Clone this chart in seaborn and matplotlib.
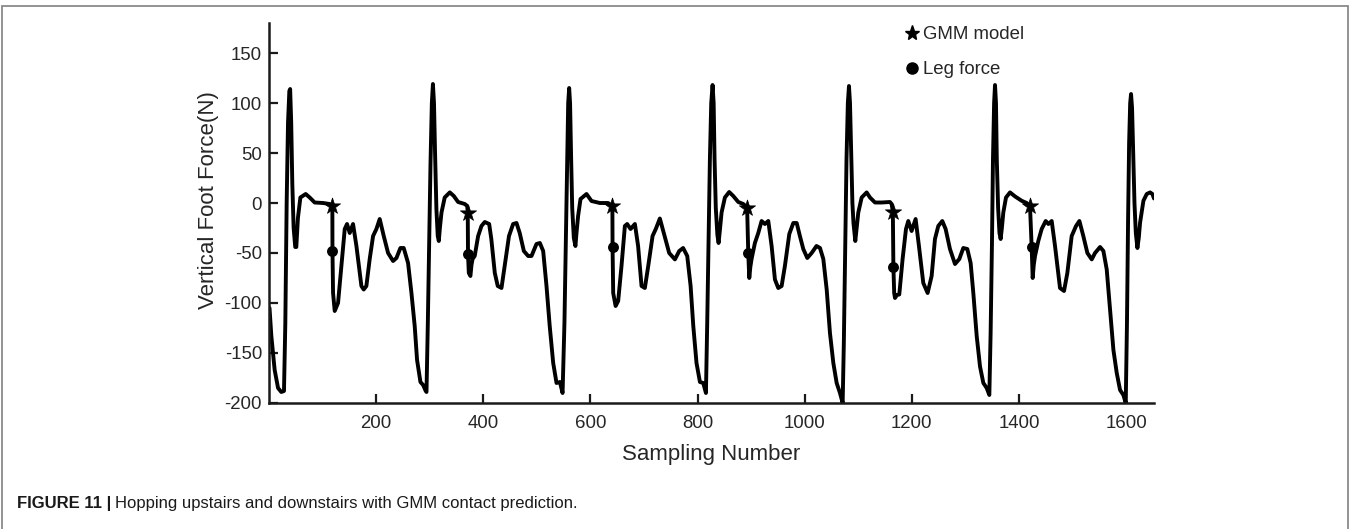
import matplotlib
matplotlib.use("Agg")
import matplotlib.pyplot as plt
from matplotlib.lines import Line2D
from matplotlib.patches import Rectangle
import seaborn as sns

# vertical foot force trace
sample_idx = [
    1, 4.4, 10.6, 16.9, 23, 28, 30.5, 33, 35.5, 38, 39.5, 41.5, 43.5, 46, 49, 51, 54, 58.6,
    68.5, 76, 85.3, 100.9, 113.4, 118.3, 118.5, 119.6, 122.7, 128.9, 135.1, 141.4, 145.7,
    150.7, 156.9, 163.2, 172.5, 176.8, 181.8, 188, 194.3, 200.5, 206.7, 214.2, 222.3, 231.6,
    237.9, 245.3, 251.5, 259.6, 265.9, 272, 276.4, 282.7, 287.7, 292.6,
    # hop 2
    294, 296.5, 299, 301.5, 304, 306, 308, 310, 312.5, 315, 317, 319, 322, 328, 337.5, 345,
    353, 365.5, 370, 371, 371.5, 373, 376, 378, 380, 384, 390.4, 396.6, 402.8, 411, 415,
    421.5, 427, 434, 440, 448, 455.7, 462, 468, 475.7, 483.8, 490, 499.3, 505.6, 511.8, 518,
    524, 530.5, 536.7, 543, 548,
    # hop 3
    551.5, 554, 556.5, 558.5, 560.3, 562, 564, 566, 569, 572, 574, 577, 581.5, 592.7, 602,
    617.6, 633, 641, 641.3, 642.5, 647, 651.8, 658, 664.3, 668.6, 674.9, 683, 689, 695.4,
    701.6, 707.9, 716, 722, 729.6, 737, 747, 757.7, 765.8, 773, 780.7, 787, 792, 798, 804.4,
    810.6, 815.6,
    # hop 4
    818, 820.5, 823, 825.5, 828, 830, 831.7, 834, 837, 839.2, 841.5, 844.8, 851, 859, 866.6,
    876, 885.3, 892.5, 894.6, 896.5, 898.5, 900.8, 907, 913.3, 919.5, 925.7, 932, 938.2,
    944.4, 950.6, 956.9, 963, 971.2, 978.7, 985, 991, 997.3, 1004.8, 1012.9, 1022, 1028.5,
    1034.7, 1041, 1047.1, 1053.4, 1059.6, 1065.8, 1070.8,
    # hop 5
    1073, 1075.5, 1078, 1080.5, 1082.6, 1084.5, 1087, 1089, 1091, 1094.4, 1097, 1100, 1106.3,
    1115.6, 1121.8, 1131.2, 1143.6, 1159, 1162.3, 1164.5, 1165.5, 1167, 1168.5, 1172, 1176.5,
    1182.7, 1189, 1193.3, 1199.5, 1207, 1213.2, 1221.3, 1229.4, 1236.9, 1243.1, 1249.3,
    1256.8, 1263, 1271.1, 1280.5, 1288.6, 1296, 1303.5, 1309.7, 1314.7, 1321, 1327.2,
    1333.4, 1339.6, 1344.6,
    # hop 6
    1347, 1349.5, 1351.4, 1353.5, 1355.2, 1357, 1358.5, 1361, 1363.5, 1365.7, 1368, 1370.7,
    1375.7, 1383.2, 1392.5, 1405, 1414.3, 1420.5, 1423.6, 1425.5, 1427.5, 1429.9, 1436,
    1442.3, 1449.8, 1454.8, 1461, 1467.2, 1476.5, 1484, 1490.2, 1498.3, 1506.4, 1512.7,
    1520, 1527.6, 1535.7, 1541.9, 1551.3, 1557.5, 1563.7, 1570, 1576.2, 1582.4, 1588.6,
    1594.8, 1599.2,
    # hop 7 (cut off)
    1601.5, 1603.5, 1605.5, 1607.5, 1609.1, 1611, 1613.5, 1615.5, 1618, 1621, 1623.5, 1626,
    1632.2, 1638.4, 1644.6, 1649, 1652,
]
foot_force = [
    -105, -133, -167, -185, -189, -188, -120, 0, 80, 112, 114, 80, 20, -25, -44, -44, -15, 5.5,
    9, 5.5, 0.5, 0, -1, -3, -48, -90, -108, -100, -63, -26, -21,
    -30, -21, -43, -83, -86.5, -83, -56, -33, -26, -16, -33, -50, -58,
    -55, -45, -45, -60, -90, -123, -157, -179, -182, -188,
    # hop 2
    -189, -120, -40, 40, 100, 119, 100, 50, -6, -33, -38, -25, -9.5, 5.5, 10.6, 7,
    1, -1, -3, -9.5, -51.4, -70, -73, -62, -56, -53, -33, -23, -19, -21, -36,
    -70, -83, -85, -63, -33, -21, -20, -30, -48, -53, -53, -41, -40, -48, -83,
    -123, -160, -180, -179, -190,
    # hop 3
    -120, -40, 40, 100, 115, 100, 44, -5, -35, -43, -30, -13, 4, 9, 2,
    0, 0, -3, -43.6, -90, -103, -98, -63, -23, -21, -26, -21, -43, -83,
    -85, -63, -33, -26, -15.5, -30, -50, -56.4, -48, -45, -53, -83, -123, -160, -179,
    -180, -190,
    # hop 4
    -120, -40, 44, 100, 118, 100, 44, -5, -32, -40, -28, -9.5, 5.5, 11, 7,
    1, -1, -4.5, -50.3, -75, -64, -56, -40, -30, -18, -21, -18, -43,
    -76.5, -85, -83, -63, -31, -20, -20, -33, -46, -55, -50, -43, -45,
    -56, -86.5, -130, -160, -180, -190, -200,
    # hop 5
    -140, -50, 44, 100, 117, 100, 44, 0, -20, -38, -25, -9.5, 5.5,
    10.6, 5.5, 0.5, 0.5, 1, -1, -9, -63.7, -90, -95, -92, -91.5,
    -56, -26, -18, -28, -16, -43, -80, -90, -73, -36, -23,
    -18, -26, -46, -61, -56, -45, -46, -60, -90, -133, -163.5,
    -180, -185, -192,
    # hop 6
    -130, -40, 44, 100, 118, 100, 44, -5, -30, -36, -25, -9.5,
    5.5, 10.6, 6.6, 2.2, 0, -3, -44, -75, -62, -53, -38,
    -26, -18, -21, -18, -43, -85, -88, -70, -33, -23, -18,
    -33, -50, -56.4, -50, -44, -48, -66.4, -106.6, -147, -170, -187,
    -192, -200,
    # hop 7 (cut off)
    -120, -20, 60, 100, 109, 95, 44, 0, -30, -45, -35, -19.5,
    2.2, 9, 10.6, 9, 4.5,
]

# contact events
gmm_x = [118.3, 371, 641, 892.5, 1164.5, 1420.5]
gmm_y = [-3, -9.5, -3, -4.5, -9, -3]
leg_x = [118.5, 371.5, 641.3, 894.6, 1165.5, 1423.6]
leg_y = [-48, -51.4, -43.6, -50.3, -63.7, -44]

x_ticks = [200, 400, 600, 800, 1000, 1200, 1400, 1600]
y_ticks = [-200, -150, -100, -50, 0, 50, 100, 150]

sns.set_style("ticks")
plt.rcParams['font.family'] = ['Liberation Sans', 'DejaVu Sans']
plt.rcParams['axes.unicode_minus'] = False

txt_col = '#262626'
fig = plt.figure(figsize=(13.51, 5.29), dpi=100)
ax = fig.add_axes([0.1991, 0.2382, 0.6551, 0.7183])

sns.lineplot(x=sample_idx, y=foot_force, sort=False, estimator=None,
             color='black', linewidth=2.8, ax=ax)
ax.lines[0].set_solid_joinstyle('round')
sns.scatterplot(x=gmm_x, y=gmm_y, marker='*', s=150, color='black',
                edgecolor='black', linewidth=0.5, ax=ax, zorder=3)
sns.scatterplot(x=leg_x, y=leg_y, marker='o', s=62, color='black',
                edgecolor='black', linewidth=0, ax=ax, zorder=3)

ax.set_xlim(0, 1652)
ax.set_ylim(-200, 180)
ax.set_xticks(x_ticks)
ax.set_xticklabels([str(t) for t in x_ticks])
ax.set_yticks(y_ticks)
ax.set_yticklabels([str(t) for t in y_ticks])
sns.despine(ax=ax)
for s in ['left', 'bottom']:
    ax.spines[s].set_linewidth(1.8)
    ax.spines[s].set_color('#1a1a1a')
ax.tick_params(direction='in', length=6.5, width=1.6, labelsize=13.4,
               labelcolor=txt_col, color='#1a1a1a')
ax.tick_params(axis='x', pad=9)
ax.tick_params(axis='y', pad=5)

ax.set_xlabel('Sampling Number', fontsize=16, color=txt_col, labelpad=8)
ax.set_ylabel('Vertical Foot Force(N)', fontsize=16, color=txt_col)
ax.yaxis.set_label_coords(-0.057, 0.534)

handles = [Line2D([], [], ls='none', marker='*', color='black', markersize=11),
           Line2D([], [], ls='none', marker='o', color='black', markersize=8)]
fig.legend(handles, ['GMM model', 'Leg force'], loc='upper left',
           bbox_to_anchor=(905 / 1351, 1 - 26 / 529), frameon=False, fontsize=13.4,
           handlelength=0.7, handletextpad=0.25, labelspacing=0.98,
           borderpad=0, borderaxespad=0, labelcolor=txt_col)

# panel frame and caption
fig.add_artist(Rectangle((2 / 1351, -0.1), 1346 / 1351, 0.1 + 523 / 529,
                         transform=fig.transFigure, fill=False,
                         edgecolor='#808080', linewidth=1.2, clip_on=False))
cap_y = 21 / 529
t1 = fig.text(17 / 1351, cap_y, 'FIGURE 11 |', fontsize=12, weight='bold',
              color='#1a1a1a', va='baseline')
fig.canvas.draw()
bb = t1.get_window_extent(renderer=fig.canvas.get_renderer())
fig.text((bb.x1 + 4) / 1351, cap_y, 'Hopping upstairs and downstairs with GMM contact prediction.',
         fontsize=12, color='#1a1a1a', va='baseline')

fig.savefig('out.png', dpi=100)
